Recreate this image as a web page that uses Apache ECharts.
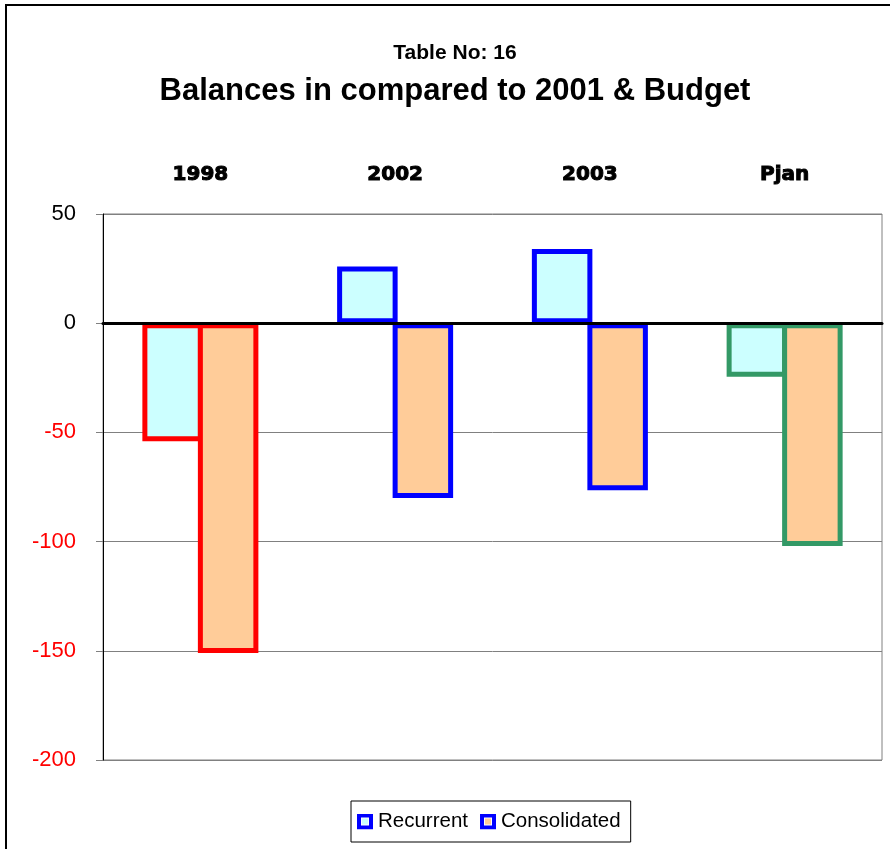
<!DOCTYPE html>
<html>
<head>
<meta charset="utf-8">
<title>Balances in compared to 2001 &amp; Budget</title>
<script src="https://cdn.jsdelivr.net/npm/echarts@6/dist/echarts.min.js"></script>
<style>
  html, body { margin: 0; padding: 0; background: #fff; }
  #chart { width: 890px; height: 849px; }
</style>
</head>
<body>
<div id="chart"></div>
<script>
// Balances by year (millions)
const categories = ['1998', '2002', '2003', 'Pjan'];
const recurrent = [-54, 26, 34, -24.5];
const consolidated = [-151, -80, -76.5, -102];
const edgeColors = ['#FF0000', '#0000FF', '#0000FF', '#339966'];
const yTicks = { min: -200, max: 50, step: 50 };

const FONT = '"Liberation Sans", Arial, sans-serif';
const RECURRENT_FILL = '#CCFFFF';
const CONSOLIDATED_FILL = '#FFCC99';

function withEdges(values) {
  return values.map((v, i) => ({ value: v, itemStyle: { borderColor: edgeColors[i] } }));
}

// legend key: blue square with a small swatch of the series fill in the middle
function keyIcon(fill) {
  const svg = '<svg xmlns="http://www.w3.org/2000/svg" width="16" height="16" viewBox="0 0 16 16">' +
    '<rect x="0" y="0" width="16" height="16" fill="#0000FF"/>' +
    '<rect x="4.5" y="4.5" width="7" height="7" fill="' + fill + '" stroke="#ffffff" stroke-width="1"/>' +
    '</svg>';
  return 'image://data:image/svg+xml;charset=utf-8,' + encodeURIComponent(svg);
}

const chart = echarts.init(document.getElementById('chart'), null, { renderer: 'canvas' });

// bar borders are stroked inside the rectangle, so neighbouring bars overlap by one border width
const BAR_W = 60.5;
const BORDER = 5;

chart.setOption({
  backgroundColor: '#ffffff',
  animation: false,
  title: [
    {
      text: 'Table No: 16',
      left: 450, top: 38, textAlign: 'center',
      textStyle: { fontFamily: FONT, fontWeight: 'bold', fontSize: 21, color: '#000' }
    },
    {
      text: 'Balances in compared to 2001 & Budget',
      left: 450, top: 71, textAlign: 'center',
      textStyle: { fontFamily: FONT, fontWeight: 'bold', fontSize: 31, color: '#000' }
    }
  ],
  graphic: [
    {
      type: 'rect', silent: true, z: -1,
      shape: { x: 6, y: 5, width: 1000, height: 1000 },
      style: { fill: 'none', stroke: '#000', lineWidth: 2 }
    }
  ],
  legend: {
    left: 351, top: 801,
    padding: [10, 10, 10, 6],
    borderColor: '#000', borderWidth: 1,
    itemWidth: 16, itemHeight: 16, itemGap: 12,
    textStyle: { fontFamily: FONT, fontSize: 20.5, color: '#000' },
    data: [
      { name: 'Recurrent', icon: keyIcon(RECURRENT_FILL) },
      { name: 'Consolidated', icon: keyIcon(CONSOLIDATED_FILL) }
    ]
  },
  grid: {
    left: 103, top: 214, width: 779, height: 546,
    show: true, borderColor: '#808080', borderWidth: 1,
    containLabel: false
  },
  xAxis: [
    {
      type: 'category', data: categories, position: 'bottom',
      z: 10,
      axisLine: { onZero: true, lineStyle: { color: '#000', width: 3 } },
      axisTick: { show: false },
      axisLabel: { show: false },
      splitLine: { show: false }
    },
    {
      type: 'category', data: categories, position: 'top',
      axisLine: { show: false },
      axisTick: { show: false },
      axisLabel: {
        margin: 29,
        fontFamily: '"DejaVu Sans", sans-serif', fontWeight: 900, fontSize: 20, color: '#000',
        textBorderColor: '#000', textBorderWidth: 1
      },
      splitLine: { show: false }
    }
  ],
  yAxis: {
    type: 'value',
    min: yTicks.min, max: yTicks.max, interval: yTicks.step,
    axisLine: { show: true, onZero: false, lineStyle: { color: '#000', width: 1 } },
    axisTick: { show: true, length: 7, lineStyle: { color: '#808080' } },
    axisLabel: {
      margin: 27,
      fontFamily: FONT, fontSize: 22,
      color: (val) => (Number(val) < 0 ? '#FF0000' : '#000000')
    },
    splitLine: { show: true, lineStyle: { color: '#808080', width: 1 } }
  },
  series: [
    {
      name: 'Recurrent', type: 'bar', xAxisIndex: 0,
      barWidth: BAR_W, barGap: (-BORDER / BAR_W * 100).toFixed(2) + '%',
      itemStyle: { color: RECURRENT_FILL, borderColor: '#0000FF', borderWidth: BORDER },
      data: withEdges(recurrent)
    },
    {
      name: 'Consolidated', type: 'bar', xAxisIndex: 0,
      barWidth: BAR_W, barGap: (-BORDER / BAR_W * 100).toFixed(2) + '%',
      itemStyle: { color: CONSOLIDATED_FILL, borderColor: '#0000FF', borderWidth: BORDER },
      data: withEdges(consolidated)
    }
  ]
});
</script>
</body>
</html>
